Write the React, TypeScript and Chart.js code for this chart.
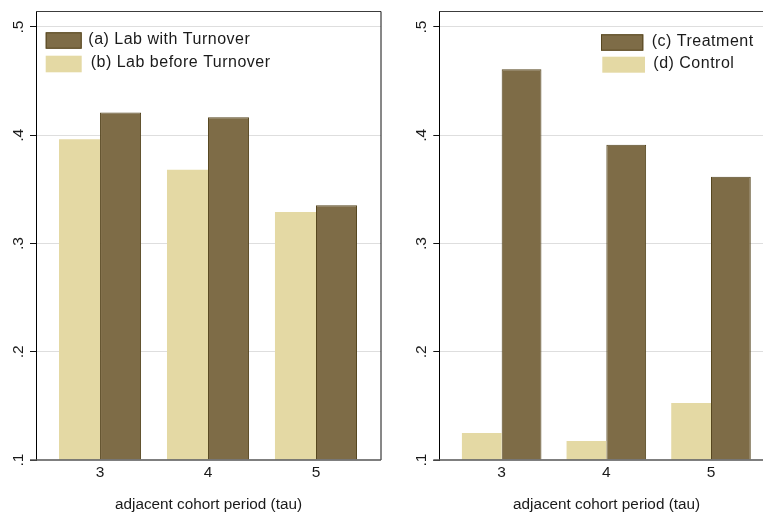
import React, { useEffect, useRef } from 'react';
import { Chart, registerables } from 'chart.js';

Chart.register(...registerables);

// ---------- data ----------
const TAU = [3, 4, 5];
const LAB_WITH_TURNOVER = [0.421, 0.4166, 0.3353];
const LAB_BEFORE_TURNOVER = [0.3963, 0.3682, 0.3291];
const TREATMENT = [0.4609, 0.3913, 0.3617];
const CONTROL = [0.1249, 0.1176, 0.1527];
const Y_TICKS = [0.1, 0.2, 0.3, 0.4, 0.5];
const Y_TICK_LABELS = ['.1', '.2', '.3', '.4', '.5'];
const X_TITLE = 'adjacent cohort period (tau)';
const LEFT_LABELS = ['(a) Lab with Turnover', '(b) Lab before Turnover'];
const RIGHT_LABELS = ['(c) Treatment', '(d) Control'];

// ---------- styles ----------
const FONT = "'Liberation Sans', Arial, Helvetica, sans-serif";
const TEXT = '#1a1a1a';
const DARK = '#7e6c47';
const DARK_EDGE = '#574720';
const LIGHT = '#e4d9a4';
const GRID = '#dedede';
const Y_MIN = 0.1;
const Y_MAX = 0.5143;

type LegendItem = {
  label: string;
  color: string;
  edge?: string;
  box: [number, number, number, number];
  textX: number;
  baseline: number;
};

type PanelProps = {
  left: number;
  width: number;
  areaLeft: number;
  padRight: number;
  xMin: number;
  xMax: number;
  lightLabel: string;
  lightData: number[];
  darkLabel: string;
  darkData: number[];
  legend: LegendItem[];
};

function makePlugin(legend: LegendItem[]) {
  return {
    id: 'stataFrame',
    afterDraw(chart: any) {
      const { ctx, chartArea: a } = chart;
      const ys = chart.scales.y;
      ctx.save();
      // top border
      ctx.lineWidth = 1;
      ctx.strokeStyle = '#3c3c3c';
      ctx.beginPath();
      ctx.moveTo(a.left, a.top);
      ctx.lineTo(a.right, a.top);
      ctx.stroke();
      // right border
      ctx.strokeStyle = '#111';
      ctx.beginPath();
      ctx.moveTo(a.right, a.top);
      ctx.lineTo(a.right, a.bottom);
      ctx.stroke();
      // bottom axis
      ctx.strokeStyle = '#555';
      ctx.lineWidth = 1.6;
      ctx.beginPath();
      ctx.moveTo(a.left - 6, a.bottom);
      ctx.lineTo(a.right, a.bottom);
      ctx.stroke();
      // y tick labels (rotated, Stata style)
      ctx.fillStyle = TEXT;
      ctx.font = `15.5px ${FONT}`;
      ctx.textAlign = 'center';
      ctx.textBaseline = 'alphabetic';
      Y_TICKS.forEach((v, i) => {
        const py = ys.getPixelForValue(v);
        ctx.save();
        ctx.translate(a.left - 13, py);
        ctx.rotate(-Math.PI / 2);
        ctx.fillText(Y_TICK_LABELS[i], 0, 0);
        ctx.restore();
      });
      // legend
      ctx.font = `16px ${FONT}`;
      ctx.textAlign = 'left';
      (ctx as any).letterSpacing = '0.5px';
      legend.forEach((it) => {
        const [x, y, w, h] = it.box;
        ctx.fillStyle = it.color;
        ctx.fillRect(x, y, w, h);
        if (it.edge) {
          ctx.strokeStyle = it.edge;
          ctx.lineWidth = 1;
          ctx.strokeRect(x + 0.5, y + 0.5, w - 1, h - 1);
        }
        ctx.fillStyle = TEXT;
        ctx.fillText(it.label, it.textX, it.baseline);
      });
      ctx.restore();
    },
  };
}

function Panel(p: PanelProps) {
  const ref = useRef<HTMLCanvasElement | null>(null);
  useEffect(() => {
    if (!ref.current) return;
    const chart = new Chart(ref.current, {
      type: 'bar',
      data: {
        datasets: [
          {
            label: p.lightLabel,
            data: TAU.map((x, i) => ({ x, y: p.lightData[i] })) as any,
            backgroundColor: LIGHT,
            borderWidth: 0,
            base: Y_MIN,
            categoryPercentage: 0.76,
            barPercentage: 1,
          } as any,
          {
            label: p.darkLabel,
            data: TAU.map((x, i) => ({ x, y: p.darkData[i] })) as any,
            backgroundColor: DARK,
            borderColor: DARK_EDGE,
            borderWidth: 1,
            base: Y_MIN,
            categoryPercentage: 0.76,
            barPercentage: 1,
          } as any,
        ],
      },
      options: {
        animation: false,
        responsive: false,
        maintainAspectRatio: false,
        layout: { padding: { top: 11.5, right: p.padRight, left: 0, bottom: 0 } },
        plugins: { legend: { display: false }, tooltip: { enabled: false } },
        scales: {
          x: {
            type: 'linear',
            min: p.xMin,
            max: p.xMax,
            offset: false,
            afterBuildTicks: (s: any) => {
              s.ticks = TAU.map((v) => ({ value: v }));
            },
            afterFit: (s: any) => {
              s.height = 54;
            },
            grid: { display: false, drawTicks: false },
            border: { display: false },
            ticks: {
              font: { size: 15.5, family: FONT },
              color: TEXT,
              padding: 3,
              callback: (v: any) => String(v),
            },
            title: {
              display: true,
              text: X_TITLE,
              font: { size: 15.3, family: FONT },
              color: TEXT,
              padding: { top: 0, bottom: 0 },
            },
          },
          y: {
            type: 'linear',
            min: Y_MIN,
            max: Y_MAX,
            afterBuildTicks: (s: any) => {
              s.ticks = Y_TICKS.map((v) => ({ value: v }));
            },
            afterFit: (s: any) => {
              s.width = p.areaLeft;
            },
            ticks: { display: false },
            grid: {
              color: (c: any) => (c.tick && Math.abs(c.tick.value - Y_MIN) < 1e-9 ? 'rgba(0,0,0,0)' : GRID),
              tickColor: '#111',
              tickLength: 6,
              drawTicks: true,
              lineWidth: 1,
            },
            border: { display: true, color: '#000', width: 1 },
          },
        },
      } as any,
      plugins: [makePlugin(p.legend)],
    });
    return () => chart.destroy();
  }, []);
  return (
    <canvas
      ref={ref}
      width={p.width}
      height={514}
      style={{ position: 'absolute', left: p.left, top: 0, width: p.width, height: 514 }}
    />
  );
}

export default function App() {
  const RX = 395;
  return (
    <div
      style={{
        position: 'fixed',
        left: 0,
        top: 0,
        width: 763,
        height: 514,
        overflow: 'hidden',
        background: '#fff',
      }}
    >
      <Panel
        left={0}
        width={390}
        areaLeft={36}
        padRight={9}
        xMin={2.407}
        xMax={5.602}
        lightLabel={LEFT_LABELS[1]}
        lightData={LAB_BEFORE_TURNOVER}
        darkLabel={LEFT_LABELS[0]}
        darkData={LAB_WITH_TURNOVER}
        legend={[
          { label: LEFT_LABELS[0], color: DARK, edge: DARK_EDGE, box: [45.7, 32.3, 36, 16.4], textX: 88.3, baseline: 44 },
          { label: LEFT_LABELS[1], color: LIGHT, box: [45.7, 55.7, 36, 16.6], textX: 90.7, baseline: 66.7 },
        ]}
      />
      <Panel
        left={RX}
        width={395}
        areaLeft={44.3}
        padRight={16.2}
        xMin={2.404}
        xMax={5.6}
        lightLabel={RIGHT_LABELS[1]}
        lightData={CONTROL}
        darkLabel={RIGHT_LABELS[0]}
        darkData={TREATMENT}
        legend={[
          { label: RIGHT_LABELS[0], color: DARK, edge: DARK_EDGE, box: [601 - RX, 34.3, 42.3, 16.4], textX: 651.7 - RX, baseline: 46 },
          { label: RIGHT_LABELS[1], color: LIGHT, box: [602.3 - RX, 56.7, 42.7, 16], textX: 653.3 - RX, baseline: 68 },
        ]}
      />
    </div>
  );
}
